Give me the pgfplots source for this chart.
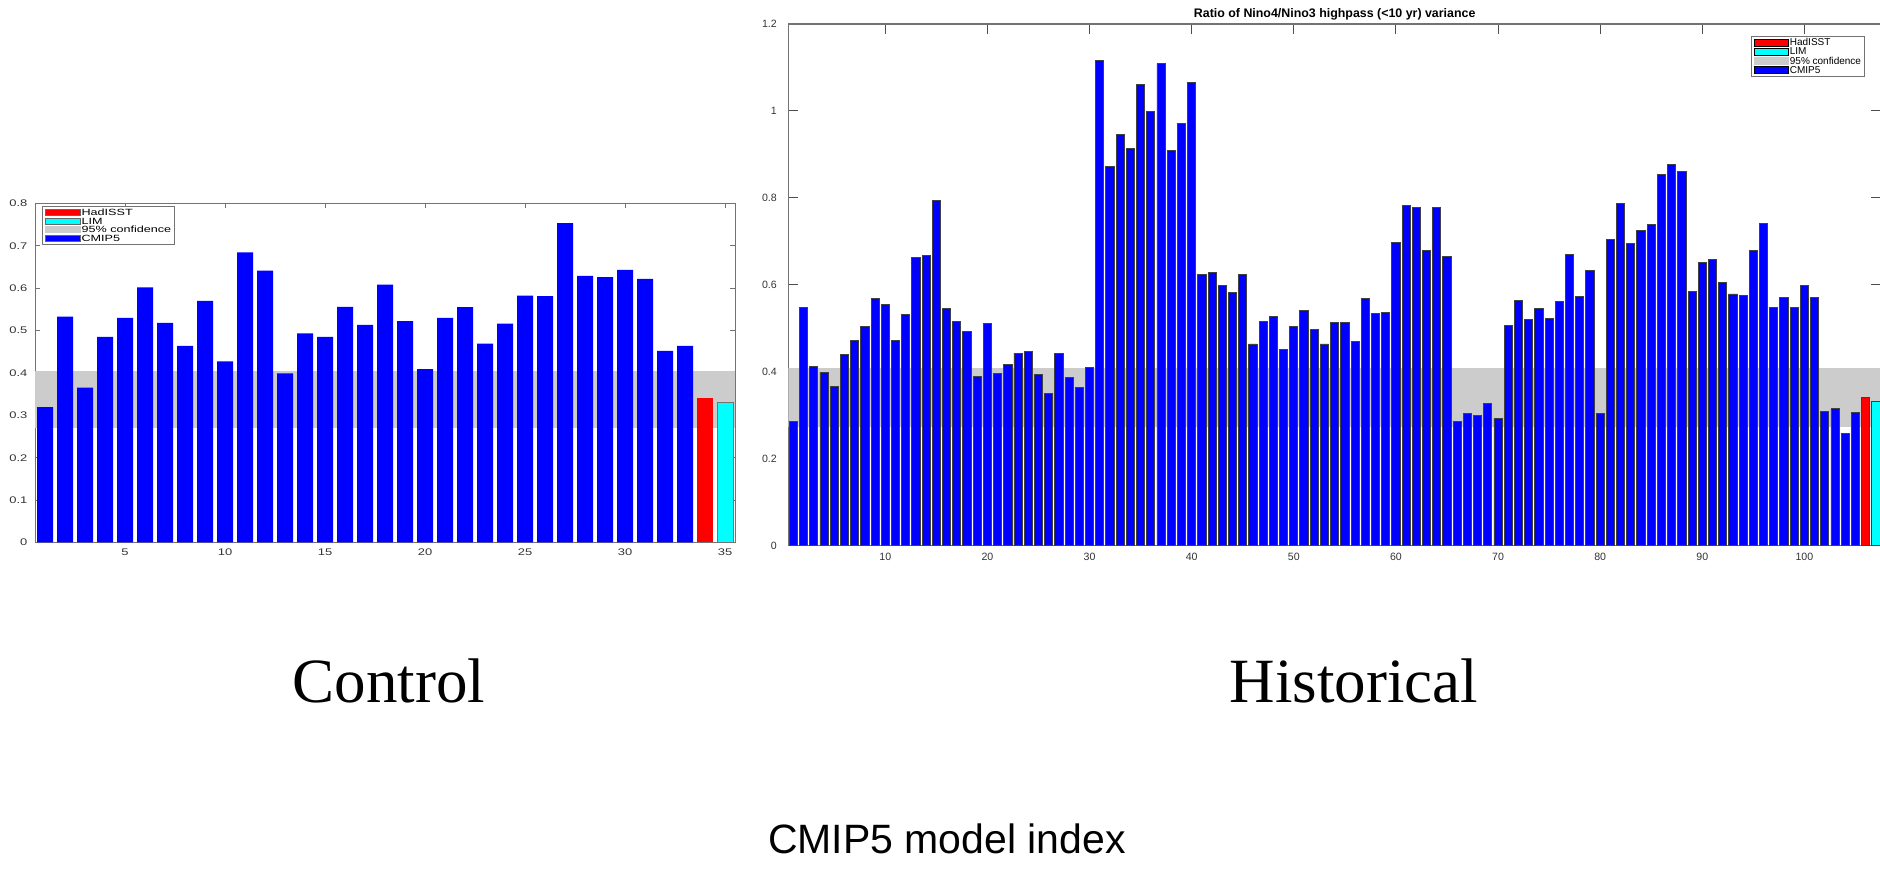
\documentclass[border=0pt]{standalone}
\usepackage{pgfplots}
\usepackage{pgfplotstable}
\pgfplotsset{compat=1.18}
\usepackage{fontspec}
\setmainfont{Liberation Sans}
\newfontfamily\timesfont{Liberation Serif}
\definecolor{bandgray}{rgb}{0.8,0.8,0.8}
\definecolor{axgray}{rgb}{0.45,0.45,0.45}
\definecolor{mblue}{rgb}{0,0,1}
\definecolor{mred}{rgb}{1,0,0}
\definecolor{mcyan}{rgb}{0,1,1}

\pgfplotstableread{
x y
1 0.319
2 0.533
3 0.365
4 0.485
5 0.530
6 0.602
7 0.518
8 0.464
9 0.570
10 0.427
11 0.684
12 0.641
13 0.399
14 0.493
15 0.485
16 0.556
17 0.513
18 0.608
19 0.522
20 0.409
21 0.530
22 0.555
23 0.469
24 0.516
25 0.582
26 0.581
27 0.753
28 0.629
29 0.626
30 0.643
31 0.622
32 0.452
33 0.464
}\ctrlcmip

\pgfplotstableread{
x y
1 0.286
2 0.548
3 0.412
4 0.399
5 0.367
6 0.440
7 0.471
8 0.505
9 0.568
10 0.555
11 0.471
12 0.532
13 0.664
14 0.667
15 0.795
16 0.545
17 0.515
18 0.492
19 0.390
20 0.512
21 0.396
22 0.416
23 0.443
24 0.447
25 0.394
26 0.351
27 0.443
28 0.388
29 0.365
30 0.411
31 1.116
32 0.872
33 0.945
34 0.914
35 1.061
36 0.998
37 1.109
38 0.909
39 0.972
40 1.066
41 0.624
42 0.628
43 0.598
44 0.583
45 0.624
46 0.464
47 0.516
48 0.527
49 0.452
50 0.504
51 0.541
52 0.497
53 0.464
54 0.514
55 0.514
56 0.469
57 0.568
58 0.535
59 0.537
60 0.698
61 0.782
62 0.779
63 0.679
64 0.777
65 0.665
66 0.285
67 0.305
68 0.299
69 0.328
70 0.293
71 0.506
72 0.564
73 0.520
74 0.545
75 0.523
76 0.561
77 0.670
78 0.574
79 0.634
80 0.305
81 0.704
82 0.788
83 0.695
84 0.724
85 0.738
86 0.853
87 0.876
88 0.861
89 0.584
90 0.652
91 0.658
92 0.606
93 0.579
94 0.576
95 0.678
96 0.741
97 0.547
98 0.571
99 0.548
100 0.598
101 0.570
102 0.308
103 0.315
104 0.258
105 0.307
}\histcmip

\begin{document}
\begin{tikzpicture}[x=1pt,y=1pt]
\useasboundingbox (0,0) rectangle (940,434);

% ---------------- Control ----------------
\begin{axis}[
  at={(17.5pt,162.75pt)}, anchor=south west,
  scale only axis, width=350pt, height=169.6pt,
  xmin=0.5, xmax=35.5, ymin=0, ymax=0.8,
  xtick={5,10,15,20,25,30,35},
  ytick={0,0.1,0.2,0.3,0.4,0.5,0.6,0.7,0.8},
  tick pos=both, ticklabel pos=left,
  tick align=inside, major tick length=2.5pt,
  axis line style={axgray, line width=0.5pt},
  every tick/.style={axgray, line width=0.4pt},
  /pgf/number format/assume math mode=true,
  tick label style={font=\fontsize{4.8}{5}\selectfont, text=black!80},
  xticklabel={\scalebox{1.35}[1]{\pgfmathprintnumber{\tick}}},
  yticklabel={\scalebox{1.35}[1]{\pgfmathprintnumber{\tick}}},
  yticklabel style={xshift=-0.3pt},
  xticklabel style={yshift=0.5pt},
  legend style={at={(rel axis cs:0.01,0.9906)}, anchor=north west,
    draw=axgray, line width=0.4pt, fill=white,
    font=\fontsize{4.5}{4.5}\selectfont,
    inner xsep=1.5pt, inner ysep=0.6pt, row sep=-0.2pt,
    cells={anchor=west},
    nodes={inner sep=0.3pt, text height=3.4pt, text depth=0.5pt}},
  legend image code/.code={\draw[#1] (0pt,-1.5pt) rectangle (17.5pt,1.5pt);},
]
\addlegendimage{fill=mred, draw=black!60, line width=0.3pt}
\addlegendentry{\scalebox{1.4}[1]{HadISST}}
\addlegendimage{fill=mcyan, draw=black!60, line width=0.3pt}
\addlegendentry{\scalebox{1.4}[1]{LIM}}
\addlegendimage{fill=bandgray, draw=bandgray, line width=0.3pt}
\addlegendentry{\scalebox{1.4}[1]{95\% confidence}}
\addlegendimage{fill=mblue, draw=black!60, line width=0.3pt}
\addlegendentry{\scalebox{1.4}[1]{CMIP5}}

\addplot[sharp plot, fill=bandgray, draw=none, mark=none, forget plot]
  coordinates {(0.5,0.271) (35.5,0.271) (35.5,0.405) (0.5,0.405)} -- cycle;
\addplot[ybar, bar width=0.8, bar shift=0pt, fill=mblue, draw=none, forget plot]
  table[x=x,y=y]{\ctrlcmip};
\addplot[ybar, bar width=0.8, bar shift=0pt, fill=mred, draw=none, forget plot]
  coordinates {(34,0.341)};
\addplot[ybar, bar width=0.8, bar shift=0pt, fill=mcyan, draw=axgray, line width=0.3pt, forget plot]
  coordinates {(35,0.330)};
\end{axis}

% ---------------- Historical ----------------
\begin{axis}[
  at={(394.15pt,161.15pt)}, anchor=south west,
  scale only axis, width=546.35pt, height=260.85pt,
  xmin=0.5, xmax=107.5, ymin=0, ymax=1.2,
  xtick={10,20,30,40,50,60,70,80,90,100},
  ytick={0,0.2,0.4,0.6,0.8,1,1.2},
  tick pos=both, ticklabel pos=left,
  tick align=inside, major tick length=5pt,
  axis line style={axgray, line width=0.6pt},
  every tick/.style={black!70, line width=0.5pt},
  /pgf/number format/assume math mode=true,
  tick label style={font=\fontsize{5.3}{6}\selectfont, text=black!80},
  yticklabel style={xshift=-2.2pt},
  xticklabel style={yshift=0pt},
  title={Ratio of Nino4/Nino3 highpass (<10 yr) variance},
  title style={at={(axis description cs:0.5,1)}, anchor=base, yshift=-2.6pt,
    font=\fontsize{6.2}{7}\selectfont\bfseries},
  legend style={at={(rel axis cs:0.881,0.9776)}, anchor=north west,
    draw=axgray, line width=0.5pt, fill=white,
    font=\fontsize{5}{5}\selectfont,
    inner xsep=1.5pt, inner ysep=0.8pt, row sep=-0.3pt,
    cells={anchor=west},
    nodes={inner sep=0.3pt, text height=3.7pt, text depth=0.6pt}},
  legend image code/.code={\draw[#1] (0pt,-1.7pt) rectangle (17pt,1.7pt);},
]
\addlegendimage{fill=mred, draw=black, line width=0.4pt}
\addlegendentry{HadISST}
\addlegendimage{fill=mcyan, draw=black, line width=0.4pt}
\addlegendentry{LIM}
\addlegendimage{fill=bandgray, draw=bandgray, line width=0.4pt}
\addlegendentry{95\% confidence}
\addlegendimage{fill=mblue, draw=black, line width=0.4pt}
\addlegendentry{CMIP5}

\addplot[sharp plot, fill=bandgray, draw=none, mark=none, forget plot]
  coordinates {(0.5,0.274) (107.5,0.274) (107.5,0.408) (0.5,0.408)} -- cycle;
\addplot[ybar, bar width=0.8, bar shift=0pt, fill=mblue, draw=black!75, line width=0.45pt, forget plot]
  table[x=x,y=y]{\histcmip};
\addplot[ybar, bar width=0.8, bar shift=0pt, fill=mred, draw=black!75, line width=0.45pt, forget plot]
  coordinates {(106,0.342)};
\addplot[ybar, bar width=0.8, bar shift=0pt, fill=mcyan, draw=black!75, line width=0.45pt, forget plot]
  coordinates {(107,0.331)};
\end{axis}

\node[anchor=base, font=\timesfont\fontsize{31.5}{36}\selectfont] at (194.5,82.5) {Control};
\node[anchor=base, font=\timesfont\fontsize{31.5}{36}\selectfont] at (677,82.5) {Historical};
\node[anchor=base, font=\fontsize{20.5}{24}\selectfont] at (473.5,7.25) {CMIP5 model index};
\end{tikzpicture}
\end{document}
